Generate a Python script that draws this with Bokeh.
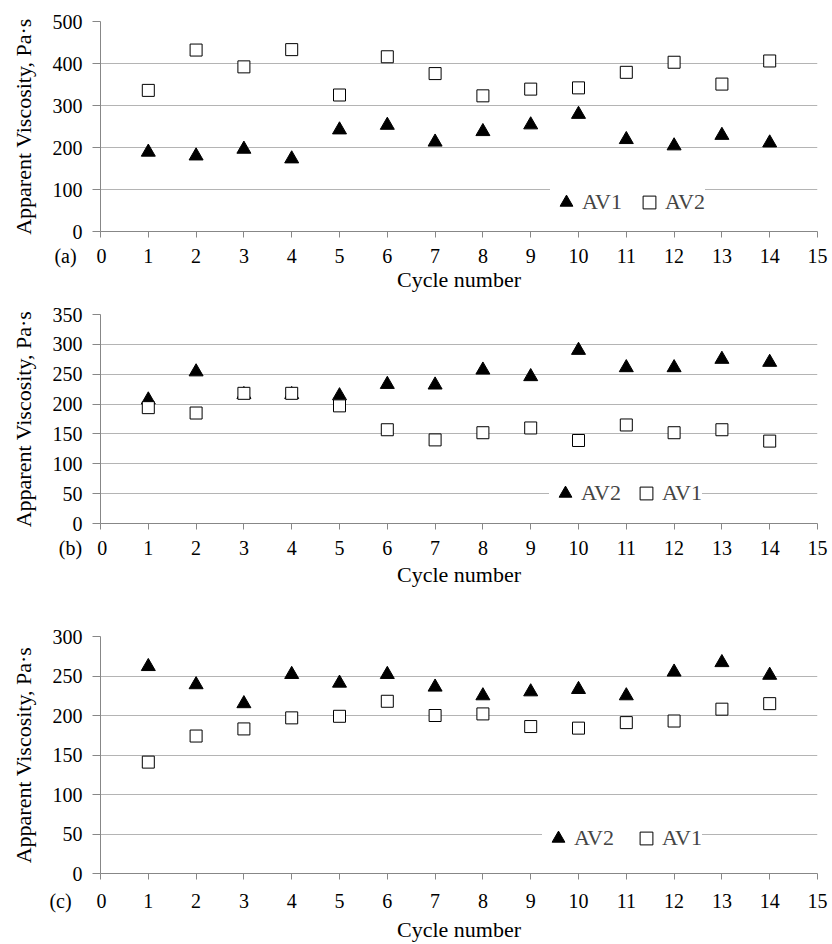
from bokeh.plotting import figure
from bokeh.models import Range1d, SingleIntervalTicker, Legend, LegendItem
from bokeh.layouts import column
from bokeh.embed import file_html
from bokeh.resources import INLINE

cycles = [1, 2, 3, 4, 5, 6, 7, 8, 9, 10, 11, 12, 13, 14]

# Panel (a)
a_av1 = [189, 180, 196, 173, 242, 253, 213, 238, 254, 279, 219, 204, 229, 211]
a_av2 = [336, 432, 392, 433, 325, 416, 376, 323, 339, 342, 379, 403, 351, 406]

# Panel (b)
b_av2 = [207, 254, 216, 216, 214, 233, 232, 257, 246, 290, 261, 261, 275, 270]
b_av1 = [194, 185, 218, 218, 197, 157, 140, 152, 160, 139, 165, 152, 157, 138]

# Panel (c)
c_av2 = [262, 239, 215, 252, 241, 252, 236, 225, 230, 233, 225, 255, 267, 251]
c_av1 = [141, 174, 183, 197, 199, 218, 200, 202, 186, 184, 191, 193, 208, 215]

FONT = "Liberation Serif"
GRID = "#b4b4b4"
AXIS = "#878787"
NB = "\u00a0"


def panel(tag, ymax, ystep, tri, tri_name, sq, sq_name, height, bl, bt, bb, br,
          xtick_standoff, xlab_standoff, leg_loc, leg_pad, leg_spacing,
          gap_n, pad_n):
    p = figure(width=832, height=height, output_backend="svg", toolbar_location=None,
               x_range=Range1d(0, 15), y_range=Range1d(0, ymax),
               min_border_left=bl, min_border_right=br, min_border_top=bt,
               min_border_bottom=bb)
    p.outline_line_color = None
    p.background_fill_color = "white"
    p.border_fill_color = "white"
    p.xgrid.grid_line_color = None
    p.ygrid.grid_line_color = GRID
    p.ygrid.grid_line_width = 1.2

    p.xaxis.ticker = SingleIntervalTicker(interval=1)
    p.yaxis.ticker = SingleIntervalTicker(interval=ystep)
    for ax in (p.xaxis, p.yaxis):
        ax.axis_line_color = AXIS
        ax.major_tick_line_color = AXIS
        ax.minor_tick_line_color = None
        ax.major_tick_in = 0
        ax.major_label_text_font = FONT
        ax.major_label_text_font_size = "20px"
        ax.major_label_text_color = "black"
        ax.axis_label_text_font = FONT
        ax.axis_label_text_font_size = "22px"
        ax.axis_label_text_font_style = "normal"
        ax.axis_label_text_color = "black"
    p.xaxis.major_tick_out = 6
    p.yaxis.major_tick_out = 8
    p.xaxis.major_label_standoff = xtick_standoff
    p.yaxis.major_label_standoff = 10
    p.xaxis.axis_label = "Cycle number"
    p.yaxis.axis_label = "Apparent Viscosity, Pa·s"
    p.xaxis.axis_label_standoff = xlab_standoff
    p.yaxis.axis_label_standoff = 14
    # panel tag shown to the left of the "0" tick label
    p.xaxis.major_label_overrides = {0: tag + NB * gap_n + "0" + NB * pad_n}

    r_tri = p.scatter(cycles, tri, marker="triangle", size=14,
                      fill_color="black", line_color="black")
    r_sq = p.scatter(cycles, sq, marker="square", size=12,
                     fill_color="white", line_color="black", line_width=1)

    leg = Legend(items=[LegendItem(label=tri_name, renderers=[r_tri]),
                        LegendItem(label=sq_name, renderers=[r_sq])],
                 orientation="horizontal", location=leg_loc,
                 padding=leg_pad, spacing=leg_spacing,
                 glyph_width=32, glyph_height=32, label_standoff=0,
                 label_text_font=FONT, label_text_font_size="22px",
                 border_line_color=None, background_fill_color="white",
                 background_fill_alpha=1.0, margin=0)
    p.add_layout(leg)
    return p


pa = panel("(a)", 500, 100, a_av1, "AV1", a_av2, "AV2", 294, 99, 21, 63, 10,
           7, -3, (450, 13), 14, 11, 4, 8)
pb = panel("(b)", 350, 50, b_av2, "AV2", b_av1, "AV1", 296, 95, 20, 67, 15,
           7, 0, (449, 14), 12, 9, 3, 7)
pc = panel("(c)", 300, 50, c_av2, "AV2", c_av1, "AV1", 354, 100, 46, 68, 15,
           10, 2, (442, 19), 20, 16, 5, 9)

layout = column(pa, pb, pc, spacing=0)
open("out.html", "w").write(file_html(layout, INLINE))
